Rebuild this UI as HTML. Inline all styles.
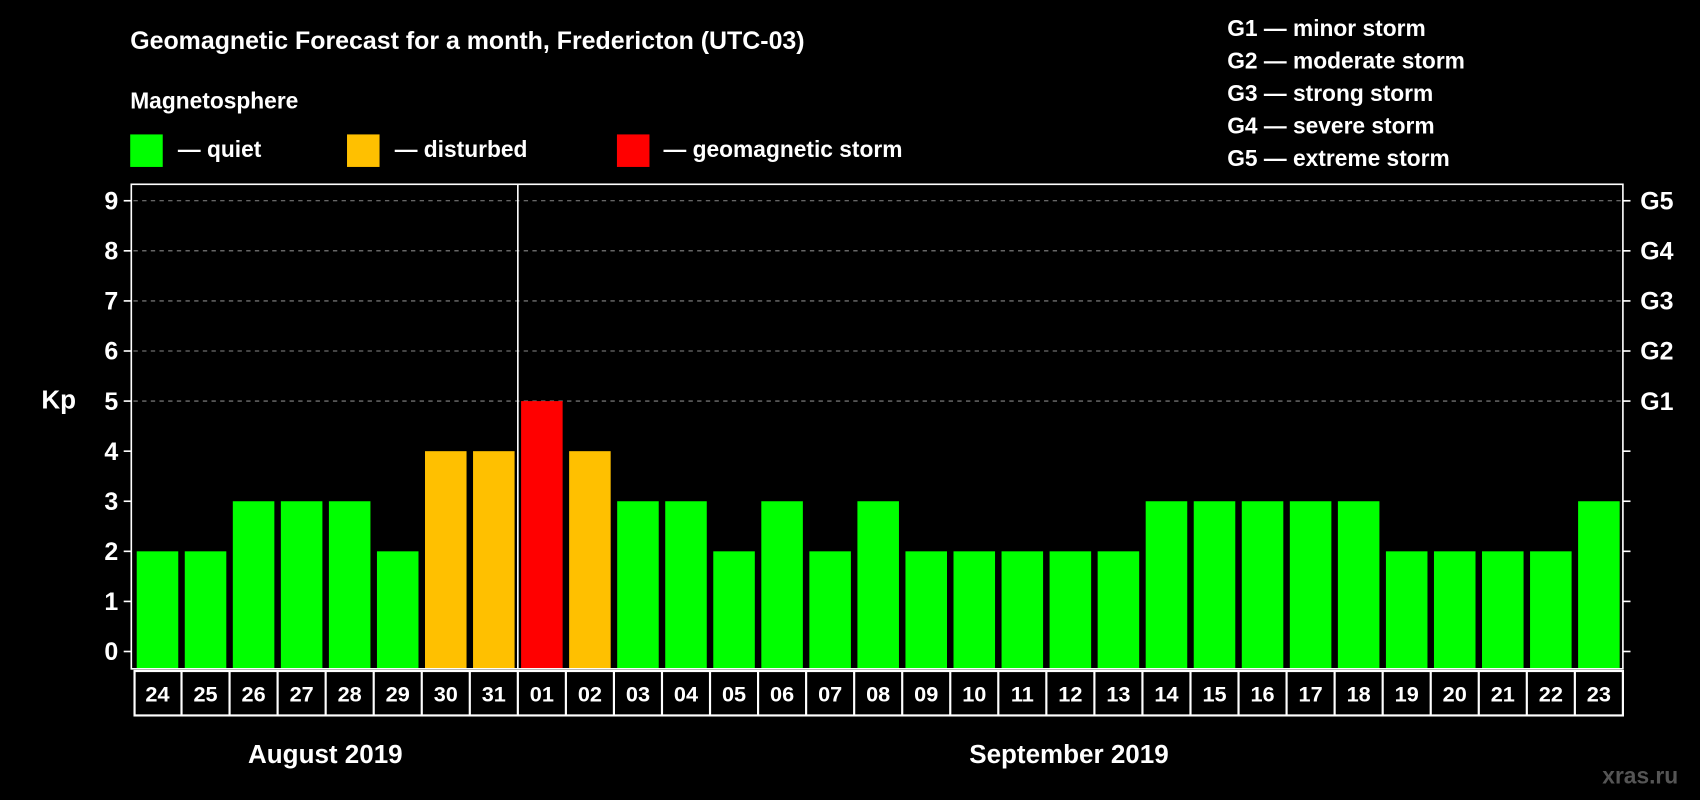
<!DOCTYPE html>
<html><head><meta charset="utf-8"><style>
html,body{margin:0;padding:0;background:#000;width:1700px;height:800px;overflow:hidden}
svg{display:block;font-family:"Liberation Sans",Arial,sans-serif;font-weight:bold}
</style></head><body>
<svg id="chart" width="1700" height="800" viewBox="0 0 1568 738" xmlns="http://www.w3.org/2000/svg">
<rect width="1568" height="738" fill="#000"/>
<text x="120" y="45" fill="#fff" font-size="23">Geomagnetic Forecast for a month, Fredericton (UTC-03)</text>
<text x="120" y="100" fill="#fff" font-size="21">Magnetosphere</text>
<g><rect x="120" y="124" width="30" height="30" fill="#00ff00"/><text x="164" y="145" fill="#fff" font-size="21">— quiet</text></g>
<g><rect x="320" y="124" width="30" height="30" fill="#ffc000"/><text x="364" y="145" fill="#fff" font-size="21">— disturbed</text></g>
<g><rect x="569" y="124" width="30" height="30" fill="#ff0000"/><text x="612" y="145" fill="#fff" font-size="21">— geomagnetic storm</text></g>
<g fill="#fff" font-size="21">
<text x="1132" y="33">G1 — minor storm</text><text x="1132" y="63">G2 — moderate storm</text><text x="1132" y="93">G3 — strong storm</text><text x="1132" y="123">G4 — severe storm</text><text x="1132" y="153">G5 — extreme storm</text></g>
<text x="38" y="377" fill="#fff" font-size="24">Kp</text>
<g id="grid"></g><g id="bars"></g><g id="axes"></g>
<text x="300" y="704" fill="#fff" font-size="24" text-anchor="middle">August 2019</text>
<text x="986" y="704" fill="#fff" font-size="24" text-anchor="middle">September 2019</text>
<text x="1548" y="723" fill="#555" font-size="21" text-anchor="end">xras.ru</text>
</svg>
<script>
const days=["24","25","26","27","28","29","30","31","01","02","03","04","05","06","07","08","09","10","11","12","13","14","15","16","17","18","19","20","21","22","23"];
const kp=[2,2,3,3,3,2,4,4,5,4,3,3,2,3,2,3,2,2,2,2,2,3,3,3,3,3,2,2,2,2,3];
const yTicks=[0,1,2,3,4,5,6,7,8,9];
const gLabels=["G1","G2","G3","G4","G5"];
const gLevels=[5,6,7,8,9];
const NS="http://www.w3.org/2000/svg";
const X0=123,X1=1497,TOP=170,BOT=617;
const slot=(X1-X0)/days.length;
const y=v=>601-v*46.2;
const x=i=>X0+i*slot;
function mk(t,a,p){const e=document.createElementNS(NS,t);for(const k in a)e.setAttribute(k,a[k]);p.appendChild(e);return e;}
const grid=document.getElementById('grid'),bars=document.getElementById('bars'),axes=document.getElementById('axes');
gLevels.forEach(v=>{const l=mk('line',{x1:X0,x2:X1,y1:y(v),y2:y(v),stroke:'#888','stroke-dasharray':'4,4','stroke-width':1},grid);

});
kp.forEach((v,i)=>{const c=v>=5?'#ff0000':v>=4?'#ffc000':'#00ff00';
const r=mk('rect',{x:x(i)+3,y:y(v),width:slot-6,height:BOT-y(v),fill:c},bars);

});
mk('rect',{x:X0-2,y:TOP,width:X1-X0+2,height:BOT-TOP,fill:'none',stroke:'#fff','stroke-width':1.5},axes);
const sep=mk('line',{x1:x(8),x2:x(8),y1:TOP,y2:BOT,stroke:'#fff','stroke-width':1.5},axes);


yTicks.forEach(v=>{mk('line',{x1:X0-9,x2:X0-2,y1:y(v),y2:y(v),stroke:'#fff','stroke-width':1.5},axes);
mk('line',{x1:X1,x2:X1+7,y1:y(v),y2:y(v),stroke:'#fff','stroke-width':1.5},axes);
const t=mk('text',{x:X0-14,y:y(v)+8,fill:'#fff','font-size':23,'text-anchor':'end'},axes);t.textContent=v;

});
gLabels.forEach((g,i)=>{const t=mk('text',{x:X1+16,y:y(gLevels[i])+8,fill:'#fff','font-size':23},axes);t.textContent=g;

});
mk('rect',{x:X0+1,y:619,width:X1-X0-1,height:41,fill:'none',stroke:'#fff','stroke-width':2},axes);
days.forEach((d,i)=>{if(i>0)mk('line',{x1:x(i),x2:x(i),y1:619,y2:660,stroke:'#fff','stroke-width':2},axes);
const t=mk('text',{x:x(i)+slot/2,y:647,fill:'#fff','font-size':20,'text-anchor':'middle'},axes);t.textContent=d;

});
</script>
</body></html>
